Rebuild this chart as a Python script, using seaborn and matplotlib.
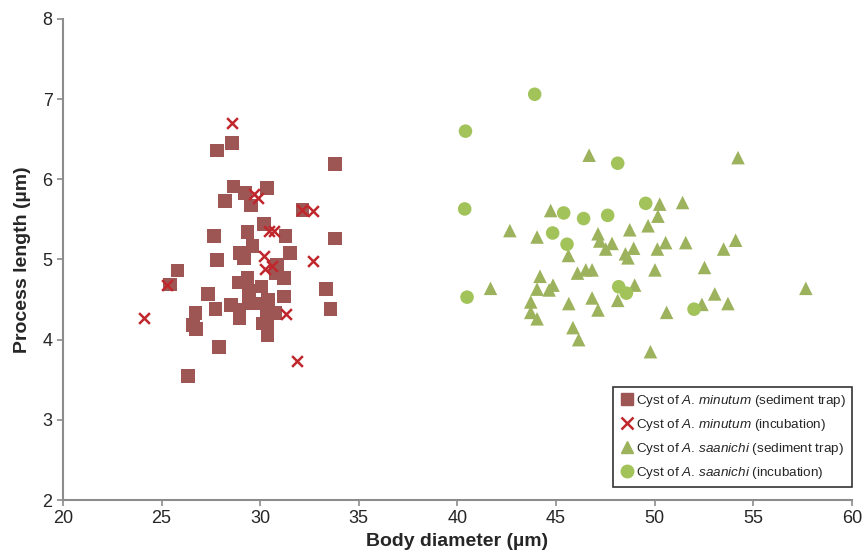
import pandas as pd
import seaborn as sns
import matplotlib.pyplot as plt
from matplotlib.lines import Line2D

# Cyst of A. minutum (sediment trap)
min_trap_x = [28.58, 27.8, 33.79, 28.65, 30.35, 29.22, 28.21, 29.53, 32.15, 33.79,
              27.67, 29.36, 30.2, 31.29, 29.6, 28.97, 29.19, 27.8, 31.52, 25.81,
              25.42, 30.85, 30.8, 31.22, 28.89, 29.36, 29.43, 30.07, 27.36, 33.33,
              31.22, 30.4, 28.51, 29.4, 30.09, 27.73, 28.94, 33.57, 26.72, 30.78,
              30.32, 28.94, 26.6, 30.15, 26.74, 30.37, 30.37, 27.9, 26.35]
min_trap_y = [6.45, 6.36, 6.19, 5.91, 5.89, 5.83, 5.73, 5.67, 5.62, 5.26,
              5.29, 5.34, 5.44, 5.29, 5.17, 5.08, 5.02, 4.99, 5.08, 4.86,
              4.69, 4.93, 4.83, 4.77, 4.71, 4.77, 4.61, 4.66, 4.57, 4.63,
              4.54, 4.50, 4.43, 4.45, 4.45, 4.38, 4.37, 4.38, 4.33, 4.33,
              4.33, 4.27, 4.18, 4.20, 4.13, 4.16, 4.05, 3.91, 3.55]

# Cyst of A. minutum (incubation)
min_inc_x = [28.58, 29.7, 29.9, 32.13, 32.66, 30.44, 30.71, 30.2, 32.69, 30.61,
             30.24, 25.29, 24.12, 31.33, 31.88]
min_inc_y = [6.70, 5.82, 5.77, 5.62, 5.61, 5.36, 5.36, 5.04, 4.98, 4.92,
             4.88, 4.68, 4.27, 4.32, 3.73]

# Cyst of A. saanichi (sediment trap)
saa_trap_x = [46.68, 54.23, 50.26, 51.42, 44.73, 50.17, 42.66, 48.74, 49.67, 44.04,
              47.13, 47.22, 47.84, 47.52, 48.94, 48.52, 48.65, 50.56, 50.14, 51.58,
              54.11, 53.5, 45.63, 46.09, 46.51, 46.83, 50.02, 52.53, 44.19, 41.68,
              44.85, 44.04, 44.65, 48.99, 57.67, 43.72, 45.65, 46.83, 48.13, 53.05,
              52.4, 53.72, 43.72, 47.13, 50.61, 44.04, 45.86, 46.15, 49.79]
saa_trap_y = [6.30, 6.27, 5.69, 5.71, 5.61, 5.54, 5.36, 5.37, 5.42, 5.28,
              5.32, 5.23, 5.20, 5.13, 5.14, 5.07, 5.02, 5.21, 5.13, 5.21,
              5.24, 5.13, 5.05, 4.83, 4.87, 4.87, 4.87, 4.90, 4.79, 4.64,
              4.68, 4.63, 4.62, 4.68, 4.64, 4.47, 4.45, 4.52, 4.49, 4.57,
              4.44, 4.45, 4.34, 4.37, 4.34, 4.26, 4.15, 4.00, 3.85]

# Cyst of A. saanichi (incubation)
saa_inc_x = [43.92, 40.41, 48.13, 40.37, 49.55, 45.39, 46.4, 47.62, 44.83, 45.56,
             40.49, 48.18, 48.57, 52.0]
saa_inc_y = [7.06, 6.60, 6.20, 5.63, 5.70, 5.58, 5.51, 5.55, 5.33, 5.19,
             4.53, 4.66, 4.58, 4.38]

groups = ['min_trap', 'min_inc', 'saa_trap', 'saa_inc']
colors = {'min_trap': '#9e5654', 'min_inc': '#c0272d',
          'saa_trap': '#9cb25c', 'saa_inc': '#a2c35a'}
markers = {'min_trap': 's', 'min_inc': 'X', 'saa_trap': '^', 'saa_inc': 'o'}

df = pd.concat([
    pd.DataFrame({'x': min_trap_x, 'y': min_trap_y, 'group': 'min_trap'}),
    pd.DataFrame({'x': min_inc_x, 'y': min_inc_y, 'group': 'min_inc'}),
    pd.DataFrame({'x': saa_trap_x, 'y': saa_trap_y, 'group': 'saa_trap'}),
    pd.DataFrame({'x': saa_inc_x, 'y': saa_inc_y, 'group': 'saa_inc'}),
], ignore_index=True)

sns.set_style('white')
plt.rcParams['font.family'] = ['Liberation Sans', 'DejaVu Sans']
plt.rcParams['mathtext.fontset'] = 'custom'
plt.rcParams['mathtext.rm'] = 'Liberation Sans'
plt.rcParams['mathtext.it'] = 'Liberation Sans:italic'

fig = plt.figure(figsize=(8.63, 5.55), dpi=100)
ax = fig.add_axes([0.073, 0.099, 0.914, 0.867])

for g in groups:
    sub = df[df['group'] == g]
    if g == 'min_inc':
        ax.scatter(sub['x'], sub['y'], marker='x', s=60, color=colors[g],
                   linewidths=1.8, zorder=3)
    else:
        sns.scatterplot(data=sub, x='x', y='y', marker=markers[g], s=95,
                        color=colors[g], edgecolor='none', ax=ax, zorder=2)

ax.set_xlim(20, 60)
ax.set_ylim(2, 8)
ax.set_xticks(range(20, 61, 5))
ax.set_yticks(range(2, 9))
ax.set_xlabel('Body diameter (µm)', fontsize=14, fontweight='bold', labelpad=4)
ax.set_ylabel('Process length (µm)', fontsize=14, fontweight='bold', labelpad=8)
ax.tick_params(axis='both', labelsize=13, length=4, width=1.2, color='#8c8c8c',
               direction='out', bottom=True, left=True)
for side in ['top', 'right']:
    ax.spines[side].set_visible(False)
for side in ['left', 'bottom']:
    ax.spines[side].set_color('#8c8c8c')
    ax.spines[side].set_linewidth(1.5)

handles = [
    Line2D([], [], marker='s', ls='', color=colors['min_trap'], markersize=9),
    Line2D([], [], marker='x', ls='', color=colors['min_inc'], markersize=8, mew=1.8),
    Line2D([], [], marker='^', ls='', color=colors['saa_trap'], markersize=9),
    Line2D([], [], marker='o', ls='', color=colors['saa_inc'], markersize=9),
]
labels = ['Cyst of $\\mathit{A.\\,minutum}$ (sediment trap)',
          'Cyst of $\\mathit{A.\\,minutum}$ (incubation)',
          'Cyst of $\\mathit{A.\\,saanichi}$ (sediment trap)',
          'Cyst of $\\mathit{A.\\,saanichi}$ (incubation)']
leg = ax.legend(handles, labels, loc='lower right', bbox_to_anchor=(1.0, 0.027),
                borderaxespad=0, fontsize=9.7, frameon=True, fancybox=False,
                handletextpad=0.0, handlelength=1.2, borderpad=0.45,
                labelspacing=0.6)
leg.get_frame().set_edgecolor('black')
leg.get_frame().set_linewidth(1.2)

plt.savefig('out.png', dpi=100)
